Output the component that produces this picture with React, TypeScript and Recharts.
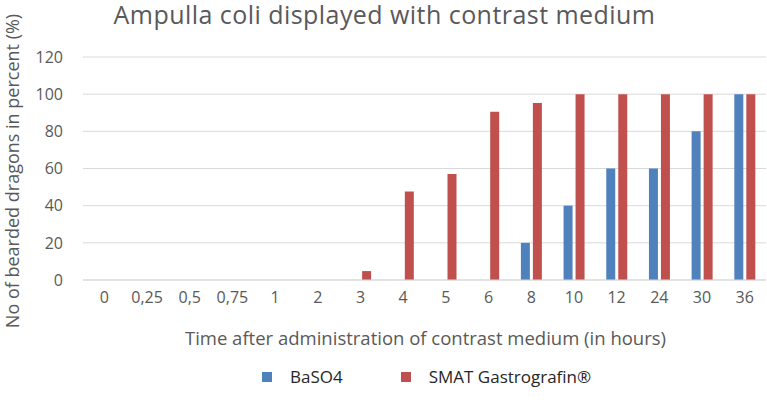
import { BarChart, Bar, XAxis, YAxis, CartesianGrid } from 'recharts';

const hours = ['0', '0,25', '0,5', '0,75', '1', '2', '3', '4', '5', '6', '8', '10', '12', '24', '30', '36'];
const baso4 = [0, 0, 0, 0, 0, 0, 0, 0, 0, 0, 20, 40, 60, 60, 80, 100];
const gastrografin = [0, 0, 0, 0, 0, 0, 4.8, 47.6, 57.1, 90.5, 95.2, 100, 100, 100, 100, 100];
const yTicks = [0, 20, 40, 60, 80, 100, 120];

const FONT = '"Open Sans", sans-serif';
const GREY = '#595959';

export default function App() {
  const data = hours.map((h, i) => ({ h, baso4: baso4[i], smat: gastrografin[i] }));

  return (
    <div style={{ position: 'absolute', left: 0, top: 0, width: 767, height: 402, background: '#fff', fontFamily: FONT }}>
      <div style={{ position: 'absolute', left: 0, width: 767, top: 1, textAlign: 'center', fontSize: 25, lineHeight: '26px', letterSpacing: 0.45, color: GREY, paddingLeft: 2, boxSizing: 'border-box' }}>
        Ampulla coli displayed with contrast medium
      </div>
      <div
        style={{
          position: 'absolute', left: 12, top: 171, transform: 'translate(-50%, -50%) rotate(-90deg)',
          whiteSpace: 'nowrap', fontSize: 18, color: GREY,
        }}
      >
        No of bearded dragons in percent (%)
      </div>
      <BarChart width={767} height={402} data={data} margin={{ top: 57, right: 1, bottom: 92, left: 0 }} barGap={3} barSize={9}>
        <CartesianGrid vertical={false} stroke="#d9d9d9" />
        <XAxis
          dataKey="h"
          height={30}
          interval={0}
          tickLine={false}
          axisLine={{ stroke: '#d9d9d9' }}
          tick={{ fontSize: 16, fill: GREY, fontFamily: FONT }}
          tickMargin={6}
        />
        <YAxis
          width={83}
          domain={[0, 120]}
          ticks={yTicks}
          tickLine={false}
          axisLine={false}
          tick={{ fontSize: 16, fill: GREY, fontFamily: FONT }}
          tickMargin={14}
        />
        <Bar dataKey="baso4" fill="#4f81bd" isAnimationActive={false} />
        <Bar dataKey="smat" fill="#c0504d" isAnimationActive={false} />
      </BarChart>
      <div style={{ position: 'absolute', left: 0, width: 767, top: 325, textAlign: 'center', fontSize: 18.5, color: GREY, paddingLeft: 84, boxSizing: 'border-box' }}>
        Time after administration of contrast medium (in hours)
      </div>
      <div style={{ position: 'absolute', left: 262, top: 365, display: 'flex', alignItems: 'center', fontSize: 17, color: '#262626' }}>
        <span style={{ width: 10, height: 10, background: '#4f81bd', marginRight: 18 }} />
        <span style={{ marginRight: 58 }}>BaSO4</span>
        <span style={{ width: 10, height: 10, background: '#c0504d', marginRight: 18 }} />
        <span>SMAT Gastrografin®</span>
      </div>
    </div>
  );
}
